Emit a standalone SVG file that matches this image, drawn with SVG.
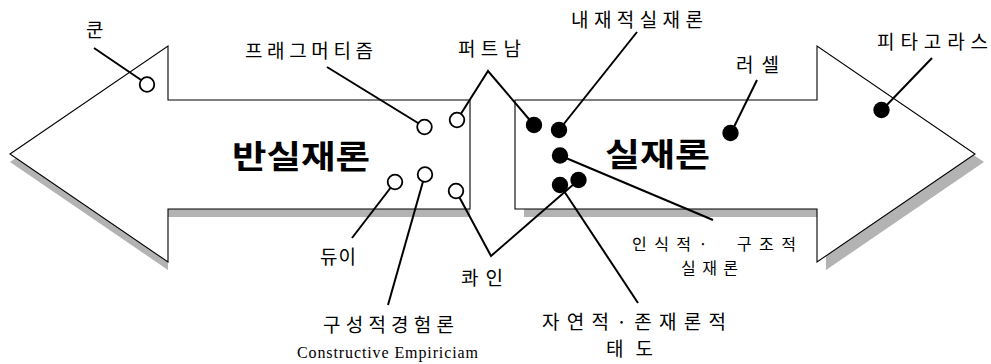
<svg xmlns="http://www.w3.org/2000/svg" width="991" height="364" viewBox="0 0 991 364">
<style>
.arrow{fill:#ffffff;stroke:#000000;stroke-width:1.1}
.shadow{fill:#b3b3b3;stroke:none}
.con{fill:none;stroke:#000000;stroke-width:2;stroke-linejoin:miter}
.hollow{fill:#ffffff;stroke:#000000;stroke-width:1.8}
.solid{fill:#000000;stroke:none}
.lbl{font-family:"Noto Sans CJK KR","Noto Sans",sans-serif;font-size:19px;fill:#000000}
.lbl2{font-family:"Noto Sans CJK KR","Noto Sans",sans-serif;font-size:16px;fill:#000000}
.big{font-family:"Noto Sans CJK KR","Noto Sans",sans-serif;font-size:32px;font-weight:bold;fill:#000000}
.en{font-family:"Liberation Serif",serif;font-size:16px;fill:#000000}
</style>
<rect x="0" y="0" width="991" height="364" fill="#ffffff"/>
<g id="anti-realism-arrow">
<polygon class="shadow" points="10,162 168,54 168,108 470,108 470,217 168,217 168,270"/>
<polygon class="arrow" points="10,154 168,46 168,100 470,100 470,209 168,209 168,262"/>
<text class="big" x="232" y="168" textLength="138" lengthAdjust="spacingAndGlyphs">반실재론</text>
</g>
<g id="realism-arrow">
<polygon class="shadow" points="524,108 826,108 826,54 984,162 826,270 826,217 524,217"/>
<polygon class="arrow" points="515,100 817,100 817,46 975,154 817,262 817,209 515,209"/>
<text class="big" x="605" y="166" textLength="105" lengthAdjust="spacingAndGlyphs">실재론</text>
</g>
<g id="connectors">
<path class="con" d="M94,48 L147,84"/>
<path class="con" d="M327,67 L424.5,127"/>
<path class="con" d="M457,120 L488,71 L534,125"/>
<path class="con" d="M559,130 L637,32"/>
<path class="con" d="M560,155.5 L713,220"/>
<path class="con" d="M560,185 L638,303"/>
<path class="con" d="M456,191 L491,256 L578.5,180"/>
<path class="con" d="M731,133 L757,80"/>
<path class="con" d="M882,110 L932,58"/>
<path class="con" d="M395,182 L352,238"/>
<path class="con" d="M425,174.5 L388,305"/>
</g>
<g id="kuhn">
<circle class="hollow" cx="147" cy="84.5" r="7.3"/>
<text class="lbl" x="86" y="37">쿤</text>
</g>
<g id="pragmatism">
<circle class="hollow" cx="424.5" cy="127" r="7.3"/>
<text class="lbl" x="245" y="58" textLength="128" lengthAdjust="spacing">프래그머티즘</text>
</g>
<g id="putnam">
<circle class="hollow" cx="457" cy="120" r="7.3"/>
<circle class="solid" cx="534" cy="125" r="8.2"/>
<text class="lbl" x="458" y="56" textLength="63" lengthAdjust="spacing">퍼트남</text>
</g>
<g id="dewey">
<circle class="hollow" cx="395" cy="182" r="7.3"/>
<text class="lbl" x="320" y="264" textLength="36" lengthAdjust="spacing">듀이</text>
</g>
<g id="constructive-empiricism">
<circle class="hollow" cx="425" cy="174.5" r="7.3"/>
<text class="lbl" x="323" y="332" textLength="131" lengthAdjust="spacing">구성적경험론</text>
<text class="en" x="297" y="358" textLength="181" lengthAdjust="spacing">Constructive Empiriciam</text>
</g>
<g id="quine">
<circle class="hollow" cx="456" cy="191" r="7.3"/>
<circle class="solid" cx="578.5" cy="180" r="8.2"/>
<text class="lbl" x="461" y="285" textLength="42" lengthAdjust="spacing">콰인</text>
</g>
<g id="internal-realism">
<circle class="solid" cx="559" cy="130" r="8.2"/>
<text class="lbl" x="571" y="27" textLength="132" lengthAdjust="spacing">내재적실재론</text>
</g>
<g id="epistemic-structural-realism">
<circle class="solid" cx="560" cy="155.5" r="8.2"/>
<text class="lbl2" xml:space="preserve"><tspan x="632" y="250" textLength="164" lengthAdjust="spacing">인식적·  구조적</tspan><tspan x="681" y="274" textLength="57" lengthAdjust="spacing">실재론</tspan></text>
</g>
<g id="natural-ontological-attitude">
<circle class="solid" cx="560" cy="185" r="8.2"/>
<text class="lbl"><tspan x="542" y="329" textLength="184" lengthAdjust="spacing">자연적·존재론적</tspan><tspan x="606" y="356" textLength="47" lengthAdjust="spacing">태도</tspan></text>
</g>
<g id="russell">
<circle class="solid" cx="730.5" cy="133" r="8.2"/>
<text class="lbl" x="736" y="72" textLength="43" lengthAdjust="spacing">러셀</text>
</g>
<g id="pythagoras">
<circle class="solid" cx="881.5" cy="110" r="8.2"/>
<text class="lbl" x="877" y="49" textLength="111" lengthAdjust="spacing">피타고라스</text>
</g>
</svg>
